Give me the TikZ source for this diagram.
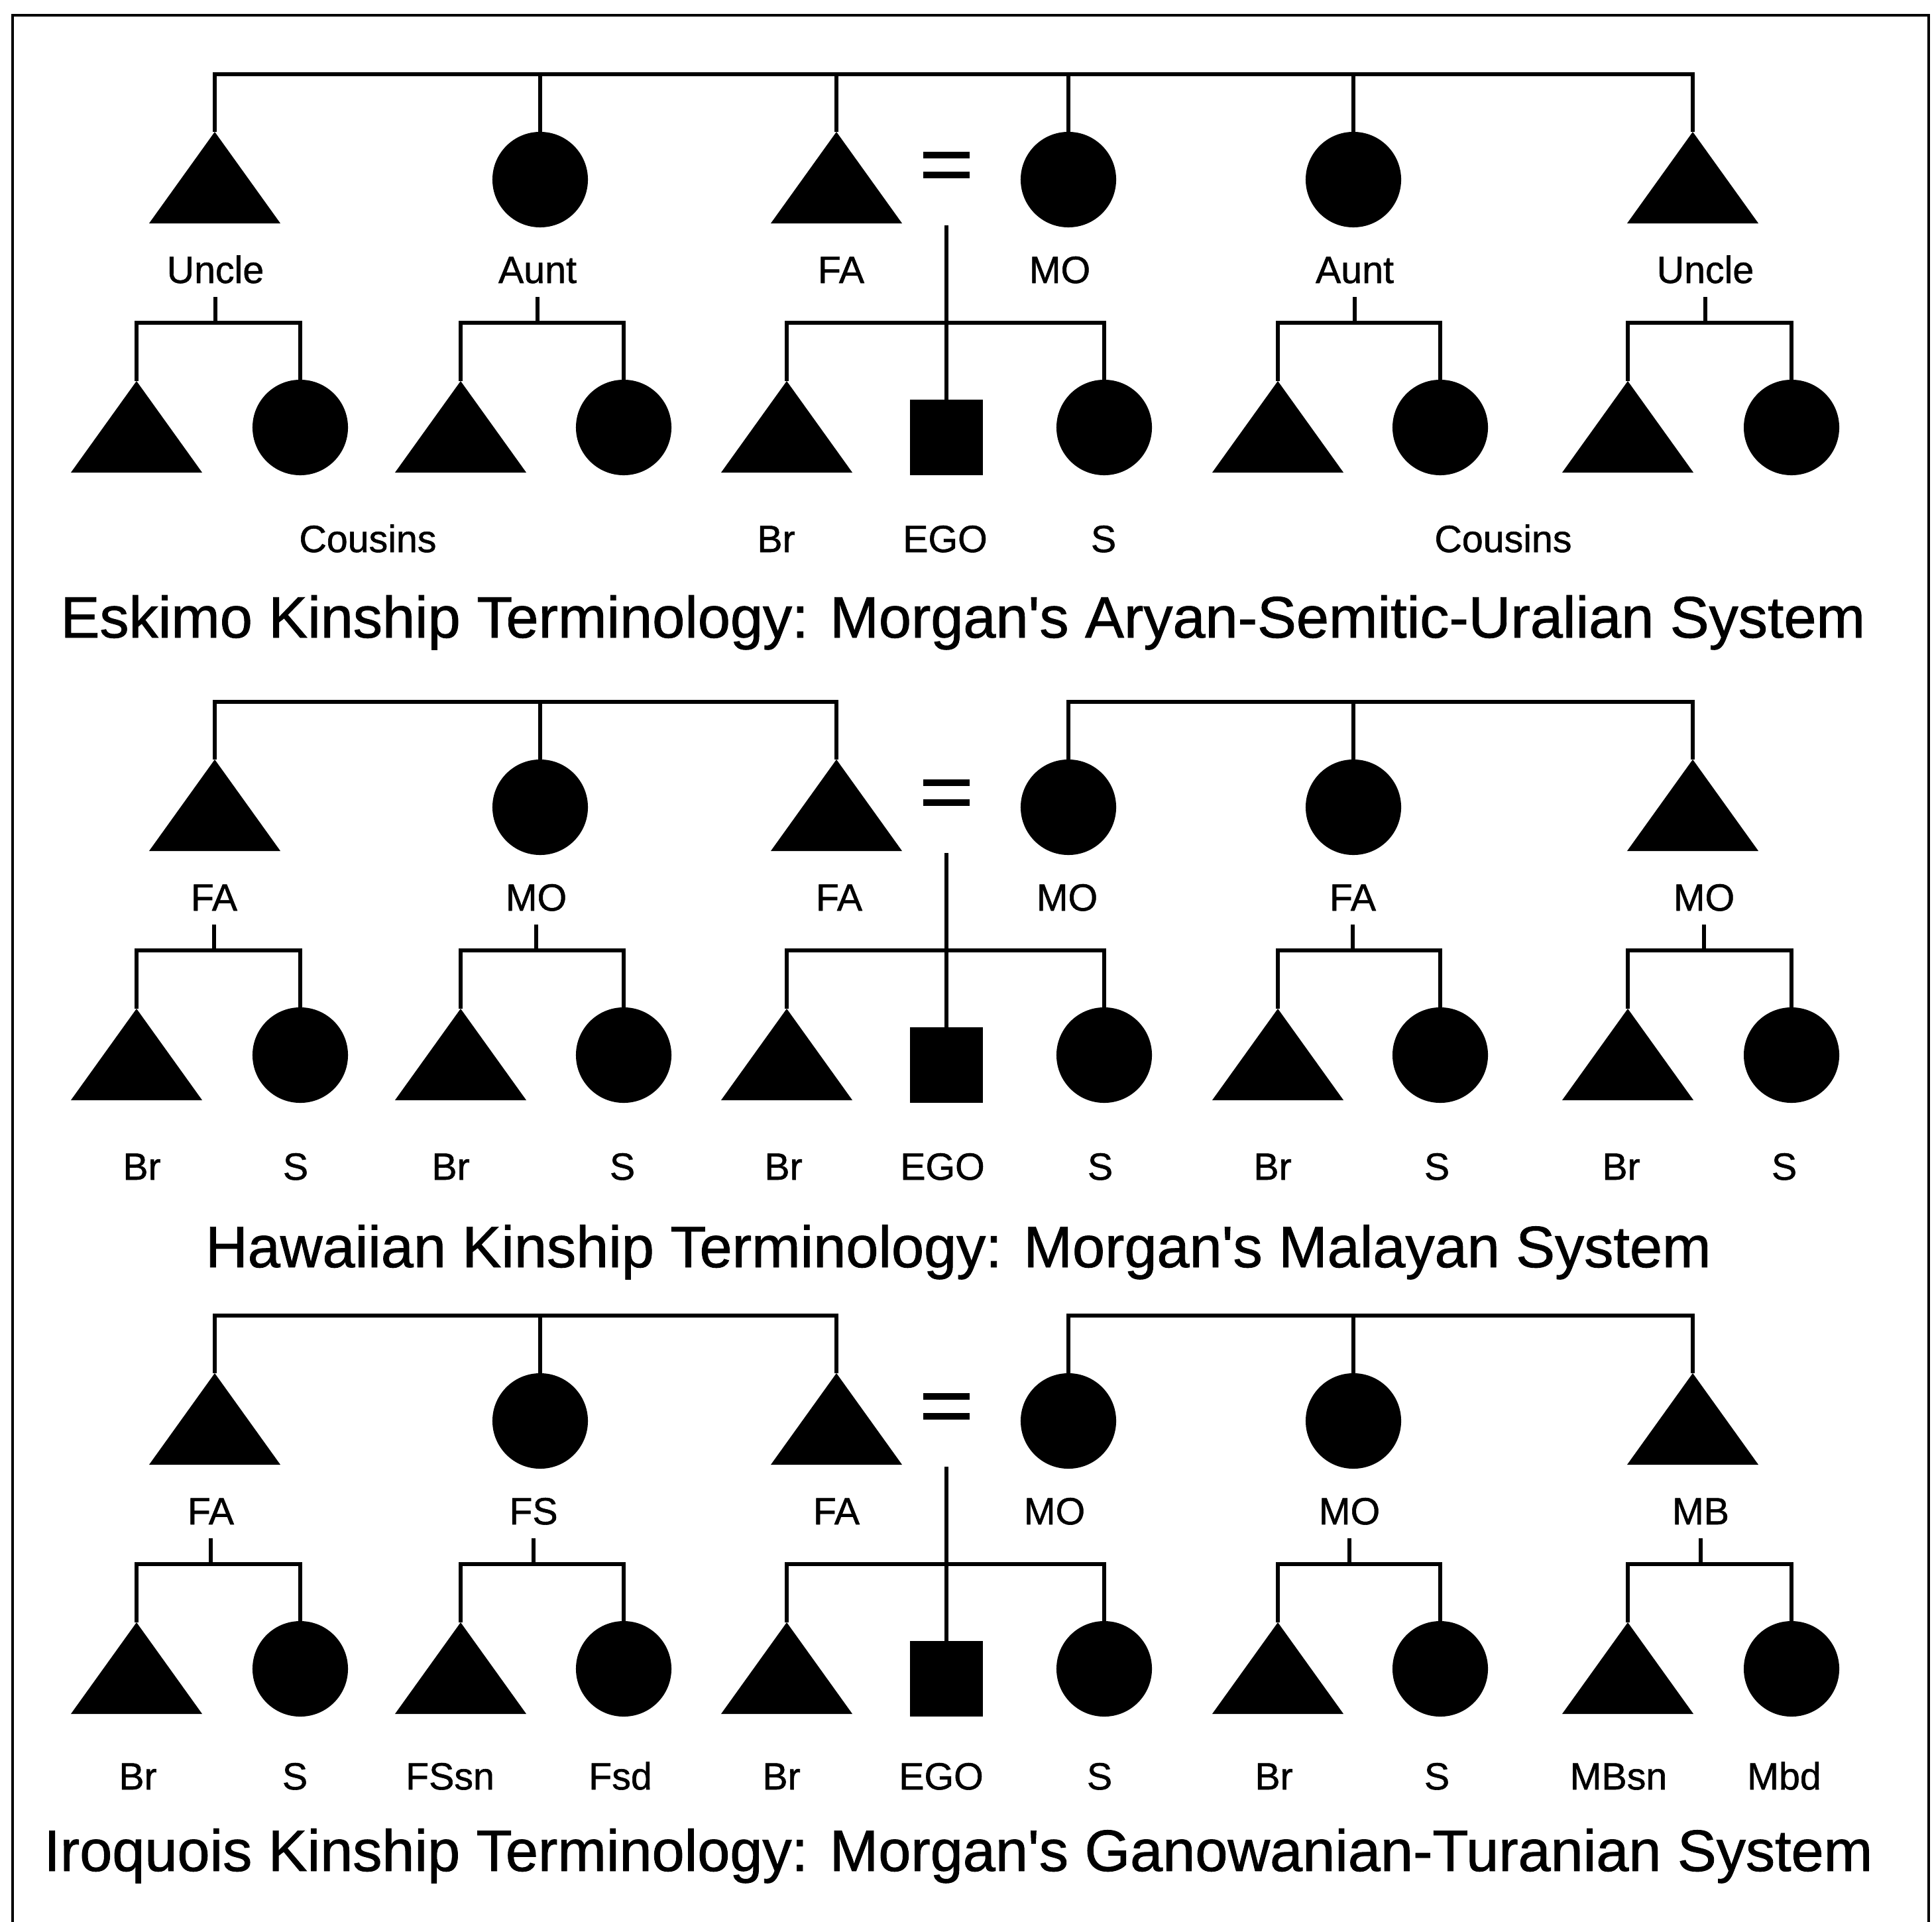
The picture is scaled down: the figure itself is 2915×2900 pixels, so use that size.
\documentclass[tikz,border=0pt]{standalone}
\usepackage{fontspec}
\newfontfamily\kinfamily{Liberation Sans}[FakeBold=1]
\usetikzlibrary{calc}
\newcommand\kinsize{\kinfamily\fontsize{16.3pt}{19pt}\selectfont}
\newcommand\headsize{\kinfamily\fontsize{25.1pt}{30pt}\selectfont}
\tikzset{
  tie/.style={line width=1.5pt, line join=miter},
  frame/.style={line width=1.3pt},
  male/.style={rectangle, minimum width=1.98cm, minimum height=1.38cm, inner sep=0pt, outer sep=0pt,
    path picture={\fill (path picture bounding box.south west) -- (path picture bounding box.north)
      -- (path picture bounding box.south east) -- cycle;}},
  female/.style={circle, fill, minimum size=1.44cm, inner sep=0pt, outer sep=0pt},
  egobox/.style={rectangle, fill, minimum width=1.10cm, minimum height=1.13cm, inner sep=0pt, outer sep=0pt},
  marriage/.style={rectangle, minimum width=0.70cm, minimum height=0.40cm, inner sep=0pt, outer sep=0pt,
    path picture={
      \fill (path picture bounding box.north west) rectangle ([yshift=-0.1cm]path picture bounding box.north east);
      \fill (path picture bounding box.south west) rectangle ([yshift=0.1cm]path picture bounding box.south east);}},
  kin/.style={font=\kinsize, anchor=base, inner sep=0pt},
  heading/.style={font=\headsize, anchor=base, inner sep=0pt},
}
\begin{document}
\begin{tikzpicture}[x=0.01cm, y=-0.01cm]
\useasboundingbox (0,0) rectangle (2915,2900);
\fill[white] (0,0) rectangle (2915,2900);

% outer frame (open at the bottom)
\draw[frame] (19,2900) -- (19,23) -- (2910,23) -- (2910,2900);

%% ---------------- Eskimo ----------------
\begin{scope}[shift={(0,112)}]
  \coordinate (ebar) at (0,0);
  \node[male]     (eu1) at (324,156) {};
  \node[female]   (eu2) at (815,159) {};
  \node[male]     (efa) at (1262,156) {};
  \node[marriage] (eeq) at (1428,137) {};
  \node[female]   (emo) at (1612,159) {};
  \node[female]   (eu5) at (2042,159) {};
  \node[male]     (eu6) at (2554,156) {};
  \draw[tie] (eu1.north) |- (eu6.north |- ebar) -- (eu6.north);
  \foreach \n in {eu2,efa,emo,eu5} \draw[tie] (\n.north) -- (\n.north |- ebar);

  \node[kin] (el1) at (325,315) {Uncle};
  \node[kin] (el2) at (811,315) {Aunt};
  \node[kin] (el3) at (1269,315) {FA};
  \node[kin] (el4) at (1599,315) {MO};
  \node[kin] (el5) at (2044,315) {Aunt};
  \node[kin] (el6) at (2573,315) {Uncle};

  \node[male]   (ec1) at (206,532) {};
  \node[female] (ec2) at (453,533) {};
  \node[male]   (ec3) at (695,532) {};
  \node[female] (ec4) at (941,533) {};
  \node[male]   (ebr) at (1187,532) {};
  \node[egobox] (eego) at (1428,548) {};
  \node[female] (esi) at (1666,533) {};
  \node[male]   (ec5) at (1928,532) {};
  \node[female] (ec6) at (2173,533) {};
  \node[male]   (ec7) at (2456,532) {};
  \node[female] (ec8) at (2703,533) {};

  \coordinate (ej1) at (325,375);
  \coordinate (ej2) at (811,375);
  \coordinate (ej3) at (1428,375);
  \coordinate (ej5) at (2044,375);
  \coordinate (ej6) at (2573,375);
  \draw[tie] ([yshift=-0.21cm]el1.base) -- (ej1);
  \draw[tie] ([yshift=-0.21cm]el2.base) -- (ej2);
  \draw[tie] ([yshift=-0.21cm]el5.base) -- (ej5);
  \draw[tie] ([yshift=-0.21cm]el6.base) -- (ej6);
  \draw[tie] (ec1.north) |- (ej1) -| (ec2.north);
  \draw[tie] (ec3.north) |- (ej2) -| (ec4.north);
  \draw[tie] (ebr.north) |- (ej3) -| (esi.north);
  \draw[tie] (ec5.north) |- (ej5) -| (ec6.north);
  \draw[tie] (ec7.north) |- (ej6) -| (ec8.north);
  \draw[tie] ([yshift=-0.71cm]eeq.south) -- (eego.north);

  \node[kin] (ek1) at (555,721) {Cousins};
  \node[kin] (ek2) at (1171,721) {Br};
  \node[kin] (ek3) at (1426,721) {EGO};
  \node[kin] (ek4) at (1665,721) {S};
  \node[kin] (ek5) at (2268,721) {Cousins};

  \node[heading] (etitle) at (1453,850) {Eskimo Kinship Terminology: Morgan's Aryan-Semitic-Uralian System};
\end{scope}

%% ---------------- Hawaiian ----------------
\begin{scope}[shift={(0,1059)}]
  \coordinate (hbar) at (0,0);
  \node[male]     (hu1) at (324,156) {};
  \node[female]   (hu2) at (815,159) {};
  \node[male]     (hfa) at (1262,156) {};
  \node[marriage] (heq) at (1428,137) {};
  \node[female]   (hmo) at (1612,159) {};
  \node[female]   (hu5) at (2042,159) {};
  \node[male]     (hu6) at (2554,156) {};
  \draw[tie] (hu1.north) |- (hfa.north |- hbar) -- (hfa.north);
  \draw[tie] (hmo.north) |- (hu6.north |- hbar) -- (hu6.north);
  \foreach \n in {hu2,hu5} \draw[tie] (\n.north) -- (\n.north |- hbar);

  \node[kin] (hl1) at (323,315) {FA};
  \node[kin] (hl2) at (809,315) {MO};
  \node[kin] (hl3) at (1266,315) {FA};
  \node[kin] (hl4) at (1610,315) {MO};
  \node[kin] (hl5) at (2041,315) {FA};
  \node[kin] (hl6) at (2571,315) {MO};

  \node[male]   (hc1) at (206,532) {};
  \node[female] (hc2) at (453,533) {};
  \node[male]   (hc3) at (695,532) {};
  \node[female] (hc4) at (941,533) {};
  \node[male]   (hbr) at (1187,532) {};
  \node[egobox] (hego) at (1428,548) {};
  \node[female] (hsi) at (1666,533) {};
  \node[male]   (hc5) at (1928,532) {};
  \node[female] (hc6) at (2173,533) {};
  \node[male]   (hc7) at (2456,532) {};
  \node[female] (hc8) at (2703,533) {};

  \coordinate (hj1) at (323,375);
  \coordinate (hj2) at (809,375);
  \coordinate (hj3) at (1428,375);
  \coordinate (hj5) at (2041,375);
  \coordinate (hj6) at (2571,375);
  \draw[tie] ([yshift=-0.21cm]hl1.base) -- (hj1);
  \draw[tie] ([yshift=-0.21cm]hl2.base) -- (hj2);
  \draw[tie] ([yshift=-0.21cm]hl5.base) -- (hj5);
  \draw[tie] ([yshift=-0.21cm]hl6.base) -- (hj6);
  \draw[tie] (hc1.north) |- (hj1) -| (hc2.north);
  \draw[tie] (hc3.north) |- (hj2) -| (hc4.north);
  \draw[tie] (hbr.north) |- (hj3) -| (hsi.north);
  \draw[tie] (hc5.north) |- (hj5) -| (hc6.north);
  \draw[tie] (hc7.north) |- (hj6) -| (hc8.north);
  \draw[tie] ([yshift=-0.71cm]heq.south) -- (hego.north);

  \node[kin] (hk1)  at (214,721) {Br};
  \node[kin] (hk2)  at (446,721) {S};
  \node[kin] (hk3)  at (680,721) {Br};
  \node[kin] (hk4)  at (939,721) {S};
  \node[kin] (hk5)  at (1182,721) {Br};
  \node[kin] (hk6)  at (1422,721) {EGO};
  \node[kin] (hk7)  at (1660,721) {S};
  \node[kin] (hk8)  at (1920,721) {Br};
  \node[kin] (hk9)  at (2168,721) {S};
  \node[kin] (hk10) at (2446,721) {Br};
  \node[kin] (hk11) at (2692,721) {S};

  \node[heading] (htitle) at (1446,853) {Hawaiian Kinship Terminology: Morgan's Malayan System};
\end{scope}

%% ---------------- Iroquois ----------------
\begin{scope}[shift={(0,1985)}]
  \coordinate (ibar) at (0,0);
  \node[male]     (iu1) at (324,156) {};
  \node[female]   (iu2) at (815,159) {};
  \node[male]     (ifa) at (1262,156) {};
  \node[marriage] (ieq) at (1428,137) {};
  \node[female]   (imo) at (1612,159) {};
  \node[female]   (iu5) at (2042,159) {};
  \node[male]     (iu6) at (2554,156) {};
  \draw[tie] (iu1.north) |- (ifa.north |- ibar) -- (ifa.north);
  \draw[tie] (imo.north) |- (iu6.north |- ibar) -- (iu6.north);
  \foreach \n in {iu2,iu5} \draw[tie] (\n.north) -- (\n.north |- ibar);

  \node[kin] (il1) at (318,315) {FA};
  \node[kin] (il2) at (805,315) {FS};
  \node[kin] (il3) at (1262,315) {FA};
  \node[kin] (il4) at (1591,315) {MO};
  \node[kin] (il5) at (2036,315) {MO};
  \node[kin] (il6) at (2566,315) {MB};

  \node[male]   (ic1) at (206,532) {};
  \node[female] (ic2) at (453,533) {};
  \node[male]   (ic3) at (695,532) {};
  \node[female] (ic4) at (941,533) {};
  \node[male]   (ibr) at (1187,532) {};
  \node[egobox] (iego) at (1428,548) {};
  \node[female] (isi) at (1666,533) {};
  \node[male]   (ic5) at (1928,532) {};
  \node[female] (ic6) at (2173,533) {};
  \node[male]   (ic7) at (2456,532) {};
  \node[female] (ic8) at (2703,533) {};

  \coordinate (ij1) at (318,375);
  \coordinate (ij2) at (805,375);
  \coordinate (ij3) at (1428,375);
  \coordinate (ij5) at (2036,375);
  \coordinate (ij6) at (2566,375);
  \draw[tie] ([yshift=-0.21cm]il1.base) -- (ij1);
  \draw[tie] ([yshift=-0.21cm]il2.base) -- (ij2);
  \draw[tie] ([yshift=-0.21cm]il5.base) -- (ij5);
  \draw[tie] ([yshift=-0.21cm]il6.base) -- (ij6);
  \draw[tie] (ic1.north) |- (ij1) -| (ic2.north);
  \draw[tie] (ic3.north) |- (ij2) -| (ic4.north);
  \draw[tie] (ibr.north) |- (ij3) -| (isi.north);
  \draw[tie] (ic5.north) |- (ij5) -| (ic6.north);
  \draw[tie] (ic7.north) |- (ij6) -| (ic8.north);
  \draw[tie] ([yshift=-0.71cm]ieq.south) -- (iego.north);

  \node[kin] (ik1)  at (208,715) {Br};
  \node[kin] (ik2)  at (445,715) {S};
  \node[kin] (ik3)  at (679,715) {FSsn};
  \node[kin] (ik4)  at (936,715) {Fsd};
  \node[kin] (ik5)  at (1179,715) {Br};
  \node[kin] (ik6)  at (1420,715) {EGO};
  \node[kin] (ik7)  at (1659,715) {S};
  \node[kin] (ik8)  at (1922,715) {Br};
  \node[kin] (ik9)  at (2168,715) {S};
  \node[kin] (ik10) at (2442,715) {MBsn};
  \node[kin] (ik11) at (2692,715) {Mbd};

  \node[heading] (ititle) at (1446,838) {Iroquois Kinship Terminology: Morgan's Ganowanian-Turanian System};
\end{scope}
\end{tikzpicture}
\end{document}
